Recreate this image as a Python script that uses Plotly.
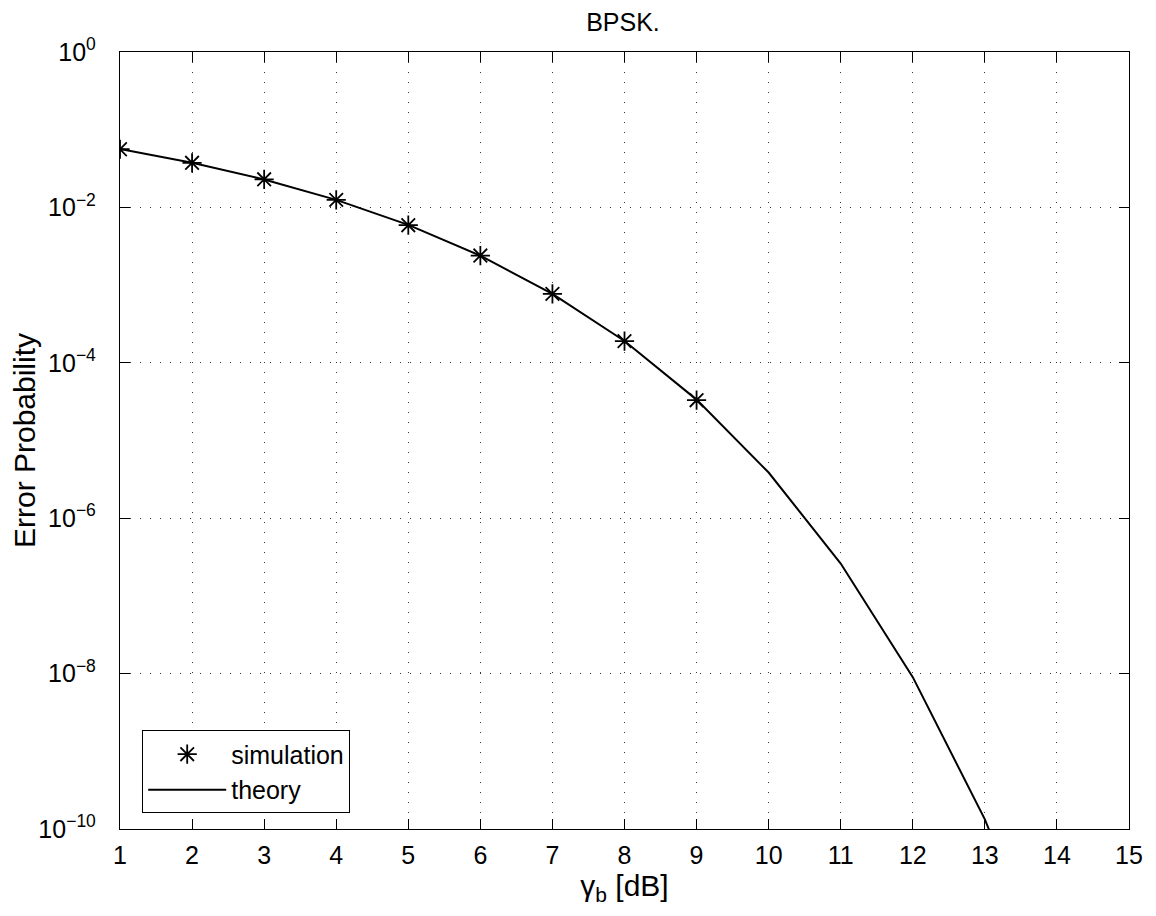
import plotly.graph_objects as go

# Eb/N0 in dB
snr_sim = [1, 2, 3, 4, 5, 6, 7, 8, 9]
ber_sim = [5.6e-2, 3.75e-2, 2.3e-2, 1.25e-2, 5.9e-3, 2.4e-3, 7.7e-4, 1.9e-4, 3.3e-5]

snr_th = [1, 2, 3, 4, 5, 6, 7, 8, 9, 10, 11, 12, 13, 14, 15]
ber_th = [5.63e-2, 3.75e-2, 2.29e-2, 1.25e-2, 5.95e-3, 2.39e-3, 7.73e-4, 1.91e-4,
          3.36e-5, 3.87e-6, 2.61e-7, 9.0e-9, 1.33e-10, 6.8e-13, 9.1e-16]

xticks = list(range(1, 16))
yticks = [1e-10, 1e-8, 1e-6, 1e-4, 1e-2, 1]
ylabels = ['10<sup>−10</sup>', '10<sup>−8</sup>', '10<sup>−6</sup>',
           '10<sup>−4</sup>', '10<sup>−2</sup>', '10<sup>0</sup>']

fnt = "Liberation Sans, Arial, Helvetica, sans-serif"

fig = go.Figure()
fig.add_trace(go.Scatter(
    x=snr_sim, y=ber_sim, name='simulation', mode='markers',
    marker=dict(symbol='asterisk-open', size=16, color='black',
                line=dict(color='black', width=1.8))
))
fig.add_trace(go.Scatter(
    x=snr_th, y=ber_th, name='theory', mode='lines',
    line=dict(color='black', width=2)
))

axis_common = dict(
    showline=True, linecolor='black', linewidth=1.3, mirror='ticks',
    ticks='inside', ticklen=10, tickcolor='black', tickwidth=1,
    showgrid=True, gridcolor='#333333', griddash='1px,9px', gridwidth=1,
    zeroline=False, automargin=False,
    tickfont=dict(size=25, color='black', family=fnt),
)

# page body has an 8px margin, so margins are shifted by 8
fig.update_layout(
    width=1156, height=916,
    paper_bgcolor='white', plot_bgcolor='white',
    margin=dict(l=112, r=35, t=44, b=95),
    font=dict(family=fnt, color='black'),
    title=dict(text='BPSK.', x=0.532, xanchor='center', y=0.985, yanchor='middle',
               font=dict(size=25, color='black', family=fnt)),
    xaxis=dict(range=[1, 15], tickvals=xticks, ticklabelstandoff=4,
               title=dict(text='γ<sub>b</sub> [dB]', font=dict(size=30), standoff=0),
               **axis_common),
    yaxis=dict(type='log', range=[-10, 0], tickvals=yticks, ticktext=ylabels,
               ticklabelstandoff=18,
               title=dict(text='Error Probability', font=dict(size=30), standoff=14),
               **axis_common),
    legend=dict(x=0.022, y=0.02, xanchor='left', yanchor='bottom',
                bgcolor='white', bordercolor='black', borderwidth=1,
                itemwidth=78, tracegroupgap=0,
                font=dict(size=25, color='black', family=fnt)),
)

fig.write_html("out.html")
